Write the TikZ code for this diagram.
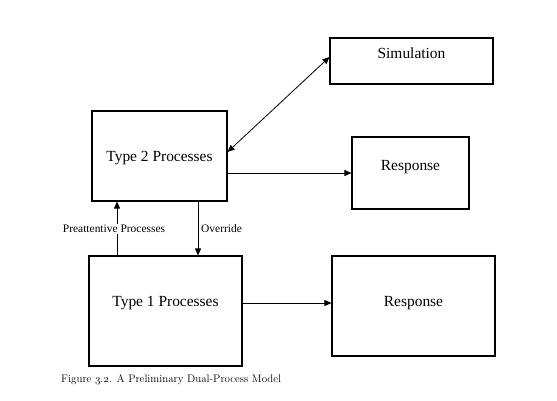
\documentclass[tikz,border=0pt]{standalone}
\usepackage{fontspec}
\newfontfamily\tnr{Liberation Serif}
\newcommand{\osn}[1]{{\usefont{OML}{cmm}{m}{it}#1}}
\usetikzlibrary{arrows.meta}
\begin{document}
\begin{tikzpicture}[x=1bp,y=-1bp,
  box/.style={draw,line width=1.1pt,inner sep=0pt,minimum width=#1},
  lbl/.style={font=\tnr\fontsize{15.5}{18}\selectfont,inner sep=0pt},
  small/.style={font=\tnr\fontsize{11.5}{13}\selectfont,inner sep=1pt},
  arr/.style={line width=0.8pt,-{Triangle[length=7bp,width=6bp]}},
  darr/.style={line width=0.8pt,{Triangle[length=7bp,width=6bp]}-{Triangle[length=7bp,width=6bp]}}]
\useasboundingbox (0,0) rectangle (557,400);
\node[box=135bp,minimum height=90bp] (t2) at (159.5,156) {};
\node[box=163bp,minimum height=46bp] (sim) at (411.5,61) {};
\node[box=117bp,minimum height=72bp] (r1) at (410.5,173) {};
\node[box=153bp,minimum height=110bp] (t1) at (165.5,311) {};
\node[box=163bp,minimum height=100bp] (r2) at (413.5,306) {};
\node[lbl] (t2l) at (159.5,158) {Type 2 Processes};
\node[lbl] (siml) at (411.5,53) {Simulation};
\node[lbl] (r1l) at (410.5,167) {Response};
\node[lbl] (t1l) at (165.5,303) {Type 1 Processes};
\node[lbl] (r2l) at (413.5,303) {Response};
\draw[darr] ([yshift=4bp]t2.east) -- ([yshift=4bp]sim.west);
\draw[arr] (r1.west -| t2.east) -- (r1.west);
\draw[arr] ([yshift=8bp]t1.east) -- ([yshift=8bp]t1.east -| r2.west);
\coordinate (pa) at (117,256);
\coordinate (ov) at (198,201);
\node[small,fill=white] (pal) at (114,229) {Preattentive Processes};
\draw[line width=0.8pt] (pa) -- (pa |- pal.south);
\draw[arr] (pa |- pal.north) -- (pa |- t2.south);
\draw[arr] (ov) -- (ov |- t1.north);
\node[small,anchor=west] (ovl) at (200,229) {Override};
\node[anchor=base west,inner sep=0pt,font=\fontsize{11}{12}\selectfont] (cap) at (61,382) {Figure \osn{3}.\osn{2}. A Preliminary Dual-Process Model};
\end{tikzpicture}
\end{document}
